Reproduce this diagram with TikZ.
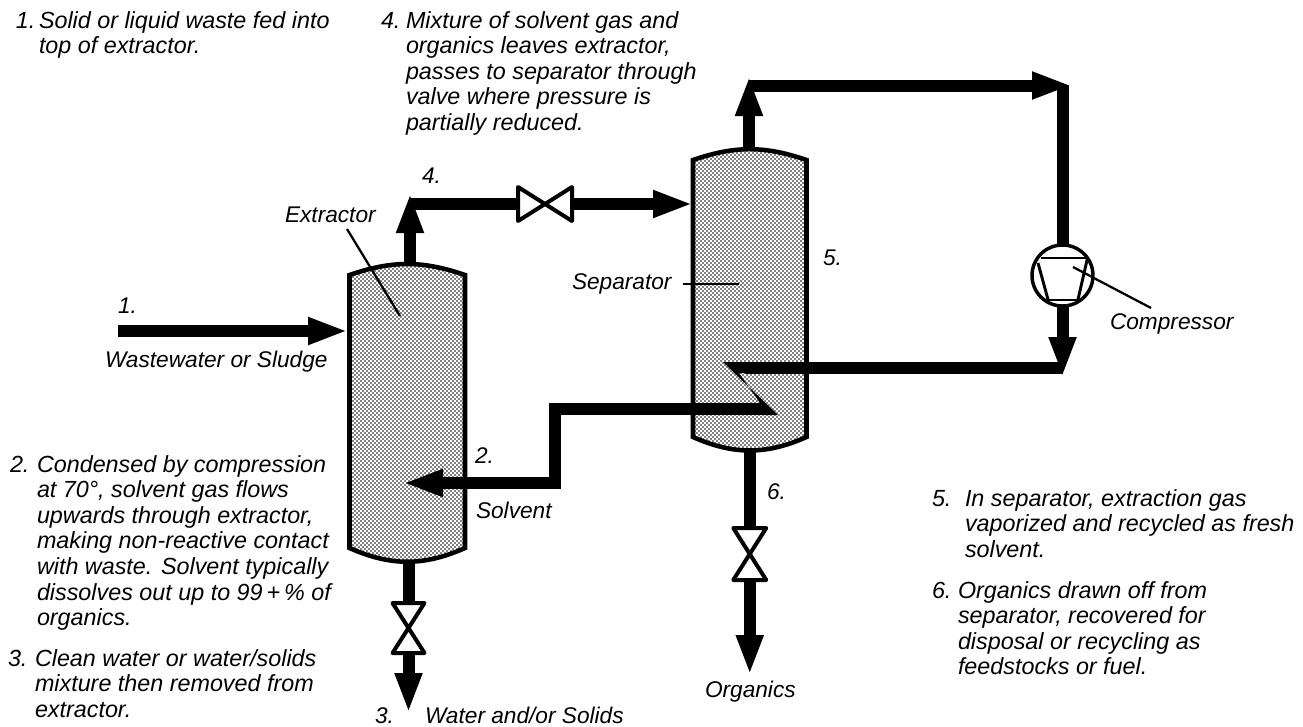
\documentclass[tikz,border=0pt]{standalone}
\usepackage{fontspec}
\setmainfont{Liberation Sans}
\usetikzlibrary{arrows.meta,patterns}
\def\U{0.75pt} % one pixel of the page
\pgfdeclarepatternformonly{stipple}{\pgfqpoint{-.1pt}{-.1pt}}{\pgfqpoint{3.1pt}{3.1pt}}{\pgfqpoint{3pt}{3pt}}{
  \pgfpathcircle{\pgfqpoint{.75pt}{.75pt}}{.72pt}
  \pgfpathcircle{\pgfqpoint{2.25pt}{2.25pt}}{.72pt}
  \pgfusepath{fill}
}
\tikzset{
  txt/.style={font=\fontsize{17}{19.2}\selectfont\itshape, inner sep=0pt, outer sep=0pt,
              anchor=base west, align=left},
  note/.style={txt, font=\fontsize{17.5}{19.2}\selectfont\itshape},
  pipe/.style={line width=9pt},
  flow/.style={pipe, -{Triangle[length=30pt, width=18.75pt]}},
  shell/.style={line width=3.4pt, preaction={fill=white}, pattern=stipple, line join=miter},
  leader/.style={line width=1.7pt},
  tank/.style={inner sep=0pt, outer sep=0pt},
  valve/.style={inner sep=0pt, outer sep=0pt},
  bow/.style={line width=3pt, fill=white, line join=round},
  blade/.style={line width=2.2pt},
}
\newcommand{\vessel}[3]{%
  \draw[shell] (#1.south west) -- (#1.north west) to[bend left=#2] (#1.north east)
    -- (#1.south east) to[bend left=#3] cycle;}
\newcommand{\valvebow}[1]{%
  \draw[bow] (#1.north west) -- (#1.south east) -- (#1.north east) -- (#1.south west) -- cycle;}
\newcommand{\valvebowup}[1]{%
  \draw[bow] (#1.north west) -- (#1.north east) -- (#1.south west) -- (#1.south east) -- cycle;}

\begin{document}
\begin{tikzpicture}[x=\U, y=-\U]
\useasboundingbox (0,0) rectangle (1303,726);

%% ── equipment, still invisible: connectors hang on these ─────────────────
\node[tank, minimum width=115.5*\U, minimum height=273*\U] (extractor) at (407.25,411.5) {};
\node[tank, minimum width=113.5*\U, minimum height=277*\U] (separator) at (749.75,298.5) {};
\node[valve, minimum width=54*\U, minimum height=34*\U] (vlvgas) at (545,204) {};
\node[valve, minimum width=32*\U, minimum height=50*\U] (vlvdrain) at (408.5,628) {};
\node[valve, minimum width=33*\U, minimum height=52*\U] (vlvorg) at (749.75,554) {};
\node[draw, circle, line width=2.6pt, inner sep=0pt, outer sep=0pt, minimum size=61*\U]
  (compressor) at (1062.5,275.5) {};

\coordinate (extop) at (410,193);
\coordinate (septop) at (749,76);
\coordinate (topend) at (1072,85.5);
\coordinate (cmptip) at (1062.5,377);
\coordinate (drain) at (408.5,713);
\coordinate (orgtip) at (749.75,675);
\coordinate (feedin) at (118,331);
\coordinate (feedtip) at (348,331);
\coordinate (coilin) at (745,367.5);
\coordinate (coilout) at (765,409);
\coordinate (soldrop) at (555,483);
\coordinate (soltip) at (403,483);

%% ── pipes that end on a vessel head ──────────────────────────────────────
\draw[flow] (extop |- extractor.north) -- (extop);
\draw[flow] (septop |- separator.north) -- (septop);
\draw[pipe] (vlvdrain |- extractor.south) -- (vlvdrain.north);
\draw[pipe] (separator.south) -- (vlvorg.north);

\vessel{extractor}{19}{24}
\vessel{separator}{19}{24}

%% ── gas line and recycle ─────────────────────────────────────────────────
\draw[pipe] (extop |- vlvgas) -- (vlvgas.west);
\draw[flow] (vlvgas.east) -- (vlvgas.east -| separator.west);
\draw[flow] (septop |- topend) -- (topend);
\draw[pipe] (compressor |- topend) -- (compressor.north);
\draw[pipe] (compressor |- coilin) -- (coilin);
\draw[flow] (compressor.south) -- (cmptip);
\fill (723,362) -- (coilin |- 0,362) -- (coilin |- 0,373) -- (739,373) -- (760,403)
  -- (coilout |- 0,415) -- (778,415) -- cycle;
\draw[flow] (coilout) -| (soldrop) -- (soltip);
\draw[flow] (feedin) -- (feedtip);
\draw[flow] (vlvdrain.south) -- (drain);
\draw[flow] (vlvorg.south) -- (orgtip);

\valvebow{vlvgas}
\valvebowup{vlvdrain}
\valvebowup{vlvorg}

%% ── inside the compressor ────────────────────────────────────────────────
\begin{scope}[shift={(compressor.center)}]
  \draw[blade] (-21.5,-17.5) -- (25.5,-17.5);
  \draw[blade] (-24.5,-12.5) -- (-14.5,24);
  \draw[blade] (25,-17.5) -- (15.5,24);
  \draw[blade] (-15.5,24.5) -- (16.5,24.5);
\end{scope}

%% ── leaders ──────────────────────────────────────────────────────────────
\coordinate (exlead) at (347,229);
\coordinate (exdot) at (400,316);
\coordinate (seplead) at (683,284);
\coordinate (sepdot) at (739,284);
\coordinate (cmpdot) at (1073,267);
\coordinate (cmplead) at (1151,308);
\draw[leader] (exlead) -- (exdot);
\draw[leader] (seplead) -- (sepdot);
\draw[leader] (cmpdot) -- (cmplead);

%% ── labels on the drawing ────────────────────────────────────────────────
\node[txt] (lblone) at (118,313) {1.};
\node[txt] (lblwaste) at (105,367) {Wastewater or Sludge};
\node[txt] (lblfour) at (422,183) {4.};
\node[txt] (lblext) at (285,222) {Extractor};
\node[txt] (lblsep) at (572,289) {Separator};
\node[txt] (lbltwo) at (475,463) {2.};
\node[txt] (lblsolv) at (476,518) {Solvent};
\node[txt] (lblfive) at (823,265) {5.};
\node[txt] (lblsix) at (767,499) {6.};
\node[txt] (lblthree) at (375,723) {3.};
\node[txt] (lblwater) at (425,723) {Water and/or Solids};
\node[txt] (lblorg) at (705,697) {Organics};
\node[txt] (lblcmp) at (1110,329) {Compressor};

%% ── numbered notes, placed by their last line ────────────────────────────
\node[note] (numone) at (16,28) {1.};
\node[note] (noteone) at (39,53.6) {Solid or liquid waste fed into\\top of extractor.};
\node[note] (numfour) at (381,28) {4.};
\node[note] (notefour) at (406,130.4) {Mixture of solvent gas and\\organics leaves extractor,\\passes to separator through\\valve where pressure is\\partially reduced.};
\node[note] (numtwo) at (10,472) {2.};
\node[note] (notetwo) at (37,625.6) {Condensed by compression\\at 70°, solvent gas flows\\upwards through extractor,\\making non-reactive contact\\with waste. Solvent typically\\dissolves out up to 99\,+\,\% of\\organics.};
\node[note] (numthree) at (8,666) {3.};
\node[note] (notethree) at (35,717.2) {Clean water or water/solids\\mixture then removed from\\extractor.};
\node[note] (numfive) at (932,506) {5.};
\node[note] (notefive) at (965,557.2) {In separator, extraction gas\\vaporized and recycled as fresh\\solvent.};
\node[note] (numsix) at (932,598) {6.};
\node[note] (notesix) at (958,674.8) {Organics drawn off from\\separator, recovered for\\disposal or recycling as\\feedstocks or fuel.};

\end{tikzpicture}
\end{document}
